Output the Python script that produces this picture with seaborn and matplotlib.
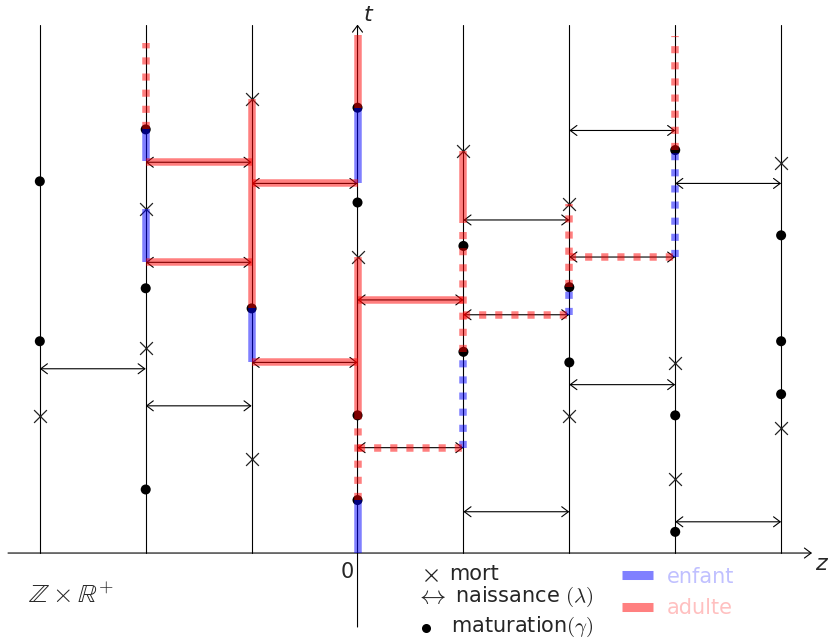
import matplotlib
matplotlib.use("Agg")
import matplotlib.pyplot as plt
import seaborn as sns
import pandas as pd

# columns of Z and time axis
columns = [-3, -2, -1, 0, 1, 2, 3, 4]
t_top = 4.99

# deaths (cross)
death_z = [-3, -2, -2, -1, -1, 0, 1, 2, 2, 3, 3, 4, 4]
death_t = [1.29, 3.245, 1.94, 4.29, 0.89, 2.80, 3.80, 3.295, 1.29, 1.795, 0.70, 3.685, 1.18]

# maturations (dots)
mat_z = [-3, -3, -2, -2, -2, -1, 0, 0, 0, 0, 1, 1, 2, 2, 3, 3, 3, 4, 4, 4]
mat_t = [3.51, 2.00, 4.00, 2.50, 0.60, 2.31, 4.205, 3.31, 1.30, 0.50,
         2.90, 1.90, 2.51, 1.80, 3.805, 1.30, 0.20, 3.00, 2.00, 1.50]

# births: arrow from column z to z+1 at time t
birth_z = [-3, -2, 1, 1, 2, 2, 3, 3, -2, -2, -1, -1, 0, 0, 1, 2]
birth_t = [1.74, 1.39, 3.145, 0.39, 3.99, 1.59, 3.49, 0.295,
           3.69, 2.745, 3.49, 1.80, 2.39, 0.995, 2.25, 2.795]
birth_kind = ["plain"] * 8 + ["solid"] * 5 + ["dashed"] * 3

# lineage segments on columns
adult_solid_z = [-1, 0, 0, 1]
adult_solid_t0 = [2.31, 4.205, 1.30, 3.125]
adult_solid_t1 = [4.29, 4.89, 2.80, 3.80]

child_solid_z = [-2, -2, -1, 0, 0]
child_solid_t0 = [3.70, 2.745, 1.80, 3.49, 0.0]
child_solid_t1 = [4.00, 3.245, 2.31, 4.205, 0.50]

adult_dashed_z = [-2, 0, 1, 2, 3]
adult_dashed_t0 = [4.00, 0.50, 1.90, 2.51, 3.805]
adult_dashed_t1 = [4.82, 1.30, 3.125, 3.295, 4.885]

child_dashed_z = [1, 2, 3]
child_dashed_t0 = [0.995, 2.25, 2.795]
child_dashed_t1 = [1.90, 2.51, 3.805]

sns.set_theme(style="white")
plt.rcParams["font.family"] = ["DejaVu Sans"]
plt.rcParams["mathtext.fontset"] = "cm"

fig = plt.figure(figsize=(8.31, 6.42), dpi=100)
ax = fig.add_axes([0, 0, 1, 1])


def px(x, y):
    return ((x - 357.5) / 105.9, (553 - y) / 105.9)


LW = 0.8
RED = (1, 0, 0, 0.5)
BLUE = (0, 0, 1, 0.5)
BAND = 5.4
DASH = (0, (0.95, 1.2))
HEAD = "->,head_length=0.4,head_width=0.3"
HEAD2 = "<->,head_length=0.4,head_width=0.3"

# columns
for z in columns:
    if z == 0:
        continue
    ax.plot([z, z], [0, t_top], color="black", lw=LW, zorder=1)

# axes
x0, _ = px(8, 0)
x1, _ = px(812, 0)
ax.annotate("", xy=(x1, 0), xytext=(x0, 0),
            arrowprops=dict(arrowstyle=HEAD, lw=LW, color="black",
                            shrinkA=0, shrinkB=0), zorder=1)
_, yb = px(0, 627)
ax.annotate("", xy=(0, t_top), xytext=(0, yb),
            arrowprops=dict(arrowstyle=HEAD, lw=LW, color="black",
                            shrinkA=0, shrinkB=0), zorder=1)

# birth arrows
for z, t in zip(birth_z, birth_t):
    ax.annotate("", xy=(z + 1, t), xytext=(z, t),
                arrowprops=dict(arrowstyle=HEAD2, lw=LW, color="black",
                                shrinkA=0, shrinkB=0), zorder=2)

# maturation dots and deaths
df_mat = pd.DataFrame({"z": mat_z, "t": mat_t})
df_death = pd.DataFrame({"z": death_z, "t": death_t})
sns.scatterplot(data=df_mat, x="z", y="t", ax=ax, color="black", s=52,
                marker="o", edgecolor="none", zorder=3, legend=False)
sns.scatterplot(data=df_death, x="z", y="t", ax=ax, color="#222222", s=85,
                marker="x", linewidth=0.9, zorder=3, legend=False)
ax.set_xlim(-3.376, 4.471)
ax.set_ylim(-0.840, 5.222)
ax.axis("off")

# lineage bands
for zs, t0s, t1s, col, ls in [
    (adult_solid_z, adult_solid_t0, adult_solid_t1, RED, "-"),
    (child_solid_z, child_solid_t0, child_solid_t1, BLUE, "-"),
    (adult_dashed_z, adult_dashed_t0, adult_dashed_t1, RED, DASH),
    (child_dashed_z, child_dashed_t0, child_dashed_t1, BLUE, DASH),
]:
    for z, a, b in zip(zs, t0s, t1s):
        ax.plot([z, z], [a, b], color=col, lw=BAND, ls=ls,
                solid_capstyle="butt", dash_capstyle="butt", zorder=4)

for z, t, k in zip(birth_z, birth_t, birth_kind):
    if k == "plain":
        continue
    ax.plot([z, z + 1], [t, t], color=RED, lw=BAND,
            ls="-" if k == "solid" else DASH,
            solid_capstyle="butt", dash_capstyle="butt", zorder=4)

# labels
ax.text(*px(364, 15), "t", fontsize=16, style="italic", ha="left", va="center")
ax.text(*px(815, 564), "z", fontsize=16, style="italic", ha="left", va="center")
ax.text(*px(347, 572), "0", fontsize=15, ha="center", va="center")
ax.text(*px(28, 596), r"$\mathbb{Z}\times\mathbb{R}^{+}$", fontsize=19,
        ha="left", va="center")

# legend
FS = 15
ax.plot(*px(431, 575), marker="x", ms=9, mew=0.9, color="#222222")
ax.text(*px(449, 574), "mort", fontsize=FS, ha="left", va="center")
ax.text(*px(431, 596), r"$\leftrightarrow$", fontsize=19, ha="center", va="center")
ax.text(*px(455, 597), r"naissance $(\lambda)$", fontsize=FS, ha="left", va="center")
ax.plot(*px(426, 628), marker="o", ms=6.5, color="black", mec="none")
ax.text(*px(451, 627), r"maturation$(\gamma)$", fontsize=FS, ha="left", va="center")

bx0, by0 = px(622, 575)
bx1, _ = px(653, 575)
ax.plot([bx0, bx1], [by0, by0], color="#8080ff", lw=6.5, solid_capstyle="butt")
ax.text(*px(667, 577), "enfant", fontsize=FS, color="#c0c0ff", ha="left", va="center")
_, ry = px(0, 607)
ax.plot([bx0, bx1], [ry, ry], color="#ff8080", lw=6.5, solid_capstyle="butt")
ax.text(*px(667, 608), "adulte", fontsize=FS, color="#ffc0c0", ha="left", va="center")

fig.savefig("out.png", dpi=100)
